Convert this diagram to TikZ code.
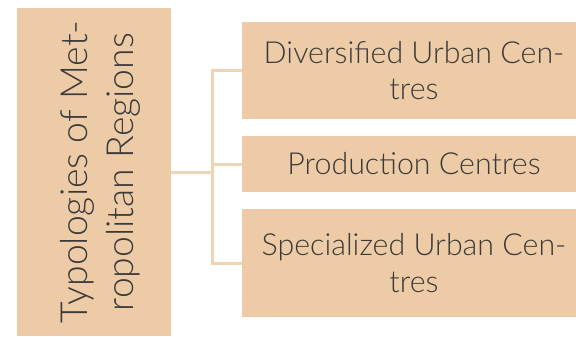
\documentclass[tikz,border=0pt]{standalone}
\usepackage{fontspec}
\setmainfont{Lato}[UprightFont=* Light]
\usetikzlibrary{positioning}
\definecolor{boxfill}{RGB}{237,203,167}
\definecolor{linkcol}{RGB}{240,212,182}
\definecolor{txtcol}{RGB}{58,58,58}
\tikzset{
  catbox/.style={fill=boxfill, text=txtcol, align=center, inner sep=0pt,
    minimum width=344bp, font=\fontsize{30.5}{37}\selectfont},
  link/.style={draw=linkcol, line width=3bp}
}

\begin{document}
\begin{tikzpicture}[x=1bp,y=-1bp]
\useasboundingbox (0,0) rectangle (576,336);
\node[fill=boxfill, inner sep=0pt, minimum width=154bp, minimum height=328bp] (root) at (94,172) {};
\node[text=txtcol, rotate=90, align=center, inner sep=0pt,
  font=\fontsize{37.5}{46}\selectfont] (roottext) at ([xshift=6bp]root.center)
  {Typologies of Met-\\ropolitan Regions};
\node[catbox, minimum height=97bp] (c1) at (414,70.5) {Diversified Urban Cen-\\tres};
\node[catbox, minimum height=56bp] (c2) at (414,164) {Production Centres};
\node[catbox, minimum height=108bp] (c3) at (414,263) {Specialized Urban Cen-\\tres};
\coordinate (trunk) at (212,172);
\path[link] (root.east) -- (trunk);
\path[link] (c1.west) -- (c1.west -| trunk) -- (c3.west -| trunk) -- (c3.west);
\path[link] (c2.west) -- (c2.west -| trunk);
\end{tikzpicture}
\end{document}
